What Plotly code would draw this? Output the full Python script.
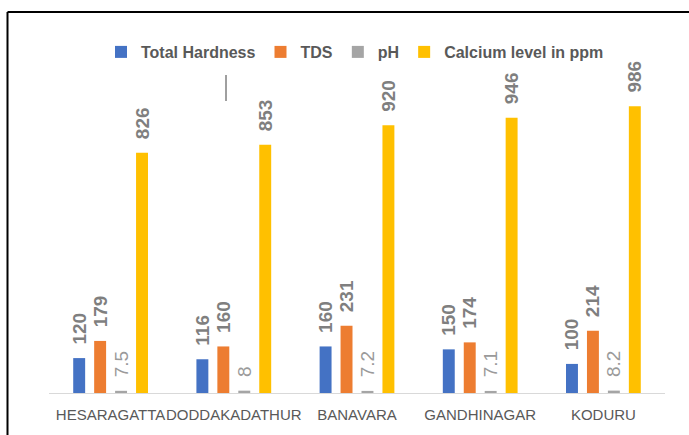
import plotly.graph_objects as go

categories = ["HESARAGATTA", "DODDAKADATHUR", "BANAVARA", "GANDHINAGAR", "KODURU"]
total_hardness = [120, 116, 160, 150, 100]
tds = [179, 160, 231, 174, 214]
ph = [7.5, 8, 7.2, 7.1, 8.2]
calcium = [826, 853, 920, 946, 986]

series = [
    ("Total Hardness", total_hardness, "#4472C4", True),
    ("TDS", tds, "#ED7D31", True),
    ("pH", ph, "#A5A5A5", False),
    ("Calcium level in ppm", calcium, "#FFC000", True),
]

fig = go.Figure()
for name, vals, color, bold in series:
    fig.add_trace(go.Bar(
        name=name, x=categories, y=vals,
        marker=dict(color=color, line=dict(width=0)),
        text=[str(v) for v in vals],
        texttemplate="\u00a0\u00a0%{text}",
        textposition="outside",
        textangle=-90,
        constraintext="none",
        cliponaxis=False,
        hoverinfo="skip",
        textfont=dict(family="Liberation Sans", size=19,
                      color="#7F7F7F" if bold else "#9A9A9A",
                      weight="bold" if bold else "normal"),
    ))

L, R, T, B = 49, 24, 73, 42
W, H = 689, 435
pw, ph_ = W - L - R, H - T - B

def px(x):
    return (x - L) / pw

def py(y):
    return (H - B - y) / ph_

fig.update_layout(
    width=W, height=H,
    margin=dict(l=L, r=R, t=T, b=B, autoexpand=False),
    paper_bgcolor="white", plot_bgcolor="white",
    barmode="group", bargap=0.32, bargroupgap=0.43,
    showlegend=True,
    hovermode=False,
    legend=dict(orientation="h", xanchor="center", x=px(355), yanchor="middle", y=py(52),
                font=dict(family="Liberation Sans", size=16, color="#595959", weight="bold"),
                itemwidth=30, tracegroupgap=0, bgcolor="rgba(0,0,0,0)"),
    xaxis=dict(showline=True, linecolor="#D9D9D9", linewidth=1, ticks="", showgrid=False,
               tickfont=dict(family="Liberation Sans", size=15, color="#595959"),
               tickangle=0, automargin=False,
               ticklabelstandoff=8, fixedrange=True),
    yaxis=dict(range=[0, 1100], visible=False, showgrid=False, zeroline=False, fixedrange=True,
               automargin=False),
    shapes=[
        dict(type="line", xref="paper", yref="paper", x0=px(7.5), x1=px(7.5), y0=py(12), y1=py(436),
             line=dict(color="black", width=2)),
        dict(type="line", xref="paper", yref="paper", x0=px(7.5), x1=px(690), y0=py(12), y1=py(12),
             line=dict(color="black", width=2)),
        dict(type="line", xref="paper", yref="paper", x0=px(226), x1=px(226), y0=py(101), y1=py(75),
             line=dict(color="#404040", width=1)),
    ],
)

fig.write_html("out.html", config={"displayModeBar": False},
               post_script="document.body.style.margin='0';document.body.style.overflow='hidden';")
